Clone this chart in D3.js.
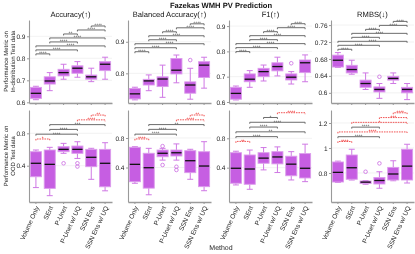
<!DOCTYPE html>
<html><head><meta charset="utf-8">
<script src="https://cdn.jsdelivr.net/npm/d3@7"></script>
<style>body{margin:0;background:#fff} svg{display:block;font-family:"Liberation Sans",Arial,sans-serif;will-change:transform} text{text-rendering:geometricPrecision}</style>
</head><body>
<svg id="c" width="415" height="254"></svg>
<script>
const methods = ["Volume Only","SEnt","P-Unet","P-Unet w/ UQ","SSN Ens","SSN Ens w/ UQ"];
const metrics = ["Accuracy(\u2191)","Balanced Accuracy(\u2191)","F1(\u2191)","RMBS(\u2193)"];
// five-number summaries per method: [lower whisker, q1, median, q3, upper whisker]
const accId  = [[0.612,0.618,0.641,0.668,0.673],[0.653,0.683,0.697,0.716,0.735],[0.705,0.72,0.735,0.75,0.773],[0.714,0.732,0.755,0.766,0.785],[0.694,0.705,0.716,0.724,0.755],[0.705,0.744,0.773,0.785,0.805]];
const balId  = [[0.716,0.719,0.735,0.752,0.756],[0.745,0.763,0.776,0.781,0.795],[0.724,0.758,0.782,0.789,0.826],[0.77,0.798,0.81,0.847,0.858],[0.718,0.737,0.763,0.773,0.816],[0.753,0.787,0.826,0.837,0.851]];
const f1Id   = [[0.608,0.611,0.634,0.658,0.663],[0.658,0.68,0.69,0.711,0.724],[0.683,0.7,0.72,0.733,0.746],[0.703,0.723,0.74,0.755,0.777],[0.671,0.687,0.698,0.711,0.72],[0.68,0.716,0.755,0.766,0.786]];
const rmbsId = [[0.66,0.661,0.677,0.689,0.695],[0.644,0.647,0.655,0.665,0.677],[0.608,0.613,0.622,0.63,0.647],[0.587,0.602,0.608,0.614,0.622],[0.622,0.63,0.634,0.639,0.647],[0.584,0.6,0.608,0.613,0.622]];
const accOod  = [[0.13,0.264,0.43,0.573,0.594],[0.03,0.12,0.417,0.594,0.627],[0.553,0.573,0.602,0.635,0.676],[0.49,0.553,0.602,0.643,0.696],[0.232,0.388,0.504,0.602,0.615],[0.09,0.14,0.43,0.602,0.684]];
const balOod  = [[0.186,0.207,0.443,0.674,0.682],[0.03,0.12,0.397,0.593,0.66],[0.5,0.546,0.593,0.637,0.66],[0.5,0.556,0.6,0.637,0.72],[0.24,0.33,0.492,0.628,0.647],[0.085,0.14,0.42,0.614,0.75]];
const f1Ood   = [[0.165,0.188,0.392,0.604,0.624],[0.106,0.174,0.382,0.573,0.64],[0.37,0.46,0.53,0.604,0.674],[0.334,0.452,0.546,0.618,0.683],[0.233,0.29,0.448,0.556,0.618],[0.21,0.26,0.392,0.592,0.72]];
const rmbsOod = [[0.725,0.728,0.805,0.888,0.895],[0.744,0.75,0.842,0.944,0.99],[0.71,0.716,0.727,0.736,0.74],[0.678,0.712,0.74,0.764,0.81],[0.738,0.744,0.792,0.845,0.898],[0.72,0.744,0.855,0.99,1.03]];
// outliers: [method index, value]
const balIdOut = [[4,0.842]];
const f1IdOut = [[4,0.753]];
const rmbsIdOut = [[3,0.638]];
const accOodOut = [[2,0.43],[3,0.43],[3,0.39]];
const balOodOut = [[2,0.69],[2,0.434],[3,0.41],[3,0.366]];
const rmbsOodOut = [[2,0.81],[3,0.877]];
// tick values
const ticksAccId = [0.6,0.7,0.8,0.9];
const ticksBalId = [0.8,0.9];
const ticksF1Id = [0.6,0.7,0.8,0.9];
const ticksRmbsId = [0.6,0.64,0.68,0.72,0.76];
const ticksOod = [0.4,0.8];
const ticksRmbsOod = [0.8,1,1.2];
// pairwise comparisons and their significance labels ("" = not shown)
const comparisons = [[0,1],[0,3],[0,5],[1,3],[1,5],[2,3],[3,5],[4,5]];
const sigAccId  = ["****","****","****","****","****","**","****","****"];
const sigBalId  = ["****","****","****","****","****","****","****","****"];
const sigF1Id   = ["****","****","****","****","****","****","****","****"];
const sigRmbsId = ["****","****","****","****","****","****","****","****"];
const sigAccOod  = ["*","****","","****","***","","****","**"];
const sigBalOod  = ["****","****","","****","**","","****","**"];
const sigF1Ood   = ["**","****","**","****","****","*","****",""];
const sigRmbsOod = ["****","****","****","****","*","","***","****"];
// 1 = comparison in the unfavourable direction (drawn red, dashed)
const worseAccOod  = [1,0,0,0,0,0,1,1];
const worseBalOod  = [1,0,0,0,0,0,1,1];
const worseF1Ood   = [1,0,0,0,0,0,1,0];
const worseRmbsOod = [1,0,1,0,1,0,1,1];
const none = [0,0,0,0,0,0,0,0];

const panels = [
 {row:0,col:0,data:accId,out:[],ticks:ticksAccId,dom:[0.597,0.974],sig:sigAccId,worse:none},
 {row:0,col:1,data:balId,out:balIdOut,ticks:ticksBalId,dom:[0.706,0.969],sig:sigBalId,worse:none},
 {row:0,col:2,data:f1Id,out:f1IdOut,ticks:ticksF1Id,dom:[0.596,0.924],sig:sigF1Id,worse:none},
 {row:0,col:3,data:rmbsId,out:rmbsIdOut,ticks:ticksRmbsId,dom:[0.576,0.772],sig:sigRmbsId,worse:none},
 {row:1,col:0,data:accOod,out:accOodOut,ticks:ticksOod,dom:[-0.048,1.088],sig:sigAccOod,worse:worseAccOod},
 {row:1,col:1,data:balOod,out:balOodOut,ticks:ticksOod,dom:[-0.068,1.18],sig:sigBalOod,worse:worseBalOod},
 {row:1,col:2,data:f1Ood,out:[],ticks:ticksOod,dom:[-0.067,1.185],sig:sigF1Ood,worse:worseF1Ood},
 {row:1,col:3,data:rmbsOod,out:rmbsOodOut,ticks:ticksRmbsOod,dom:[0.568,1.304],sig:sigRmbsOod,worse:worseRmbsOod}
];

const svg = d3.select("#c");
const colX = [29,128,229,331], panelW = 83;
const rowY = [[20,103],[110,202]];
const boxFill = "#c65ee2", boxStroke = "#dc9cec", whisk = "#cf78e4";
const ink = "#1c1c1c";
const bracket = {0:{a:0.04,b:0.048,tip:0.018},1:{a:0.03,b:0.052,tip:0.016}};

panels.forEach(p => {
  const x0 = colX[p.col], [yt, yb] = rowY[p.row];
  const x = d3.scaleBand().domain(methods).range([x0, x0 + panelW]).paddingInner(0.2).paddingOuter(0.1);
  const y = d3.scaleLinear().domain(p.dom).range([yb, yt]);
  const g = svg.append("g");
  const bw = x.bandwidth();
  g.selectAll(".grid").data(p.ticks).join("line")
    .attr("x1", x0).attr("x2", x0 + panelW).attr("y1", d => y(d)).attr("y2", d => y(d))
    .attr("stroke", "#ececec").attr("stroke-width", 0.7);
  const ya = g.append("g").attr("transform", `translate(${x0},0)`)
    .call(d3.axisLeft(y).tickValues(p.ticks).tickSize(2).tickSizeOuter(0).tickPadding(1.5).tickFormat(d => String(d)));
  ya.select(".domain").attr("stroke", "#9a9a9a").attr("stroke-width", 1.1);
  ya.selectAll(".tick line").attr("stroke", "#9a9a9a");
  ya.selectAll("text").attr("font-size", 6.5).attr("fill", ink).attr("font-family", "Liberation Sans, Arial, sans-serif");
  const xa = g.append("g").attr("transform", `translate(0,${yb})`)
    .call(d3.axisBottom(x).tickSize(2).tickSizeOuter(0).tickPadding(1));
  xa.select(".domain").attr("stroke", "#9a9a9a").attr("stroke-width", 1.3);
  xa.selectAll(".tick line").attr("stroke", "#9a9a9a");
  if (p.row === 0) xa.selectAll("text").remove();
  else xa.selectAll("text").attr("font-size", 6.5).attr("fill", ink)
      .attr("font-family", "Liberation Sans, Arial, sans-serif")
      .attr("text-anchor", "end").attr("x", 0).attr("y", 0).attr("dy", "0.35em")
      .attr("transform", "translate(1.5,4.5) rotate(-65)");
  p.data.forEach((s, i) => {
    const cx = x(methods[i]) + bw / 2;
    const bg = g.append("g");
    bg.append("line").attr("x1", cx).attr("x2", cx).attr("y1", y(s[0])).attr("y2", y(s[1])).attr("stroke", whisk).attr("stroke-width", 1);
    bg.append("line").attr("x1", cx).attr("x2", cx).attr("y1", y(s[3])).attr("y2", y(s[4])).attr("stroke", whisk).attr("stroke-width", 1);
    [s[0], s[4]].forEach(v => bg.append("line").attr("x1", cx - bw * 0.27).attr("x2", cx + bw * 0.27)
      .attr("y1", y(v)).attr("y2", y(v)).attr("stroke", whisk).attr("stroke-width", 1));
    bg.append("rect").attr("x", x(methods[i])).attr("y", y(s[3])).attr("width", bw)
      .attr("height", Math.max(0.5, y(s[1]) - y(s[3]))).attr("fill", boxFill).attr("stroke", boxStroke).attr("stroke-width", 0.9);
    bg.append("line").attr("x1", x(methods[i]) + 0.4).attr("x2", x(methods[i]) + bw - 0.4)
      .attr("y1", y(s[2])).attr("y2", y(s[2])).attr("stroke", "#111").attr("stroke-width", 1.3);
  });
  p.out.forEach(o => g.append("circle").attr("cx", x(methods[o[0]]) + bw / 2).attr("cy", y(o[1])).attr("r", 1.8)
      .attr("fill", "none").attr("stroke", whisk).attr("stroke-width", 0.9));
  const span = p.dom[1] - p.dom[0];
  const dataMax = d3.max(p.data, s => s[4]);
  const bc = bracket[p.row];
  let k = 0;
  comparisons.forEach((c, j) => {
    const lab = p.sig[j];
    if (!lab) return;
    const lv = dataMax + span * (bc.a + bc.b * k); k++;
    const x1 = x(methods[c[0]]) + bw / 2, x2 = x(methods[c[1]]) + bw / 2;
    const red = p.worse[j] === 1;
    const col = red ? "#ee2a2a" : "#5c5c5c";
    const yy = y(lv), tip = y(lv - span * bc.tip);
    g.append("path").attr("d", `M${x1},${tip}L${x1},${yy}L${x2},${yy}L${x2},${tip}`)
      .attr("fill", "none").attr("stroke", col).attr("stroke-width", red ? 0.8 : 0.9)
      .attr("stroke-dasharray", red ? "1.6,0.9" : null);
    g.append("text").attr("x", (x1 + x2) / 2).attr("y", yy + 1.3).attr("text-anchor", "middle")
      .attr("font-size", 5).attr("fill", col).text(lab);
  });
  if (p.row === 0) svg.append("text").attr("x", x0 + panelW / 2).attr("y", 17).attr("text-anchor", "middle")
      .attr("font-size", 7.6).attr("fill", "#111").text(metrics[p.col]);
});

svg.append("text").attr("x", 221).attr("y", 8.3).attr("text-anchor", "middle").attr("font-size", 7.6)
  .attr("font-weight", "bold").attr("fill", "#111").text("Fazekas WMH PV Prediction");
svg.append("text").attr("x", 221).attr("y", 250).attr("text-anchor", "middle").attr("font-size", 7)
  .attr("fill", ink).text("Method");
const yTitles = [["Performance Metric on","In-distribution Test data"],["Performance Metric on","OOD Test data"]];
yTitles.forEach((t, r) => {
  const cy = (rowY[r][0] + rowY[r][1]) / 2;
  const tx = svg.append("text").attr("transform", `translate(8.3,${cy}) rotate(-90)`).attr("text-anchor", "middle")
    .attr("font-size", 6).attr("fill", ink);
  tx.append("tspan").attr("x", 0).attr("y", 0).text(t[0]);
  tx.append("tspan").attr("x", 0).attr("y", 6.4).text(t[1]);
});
</script>
</body></html>
